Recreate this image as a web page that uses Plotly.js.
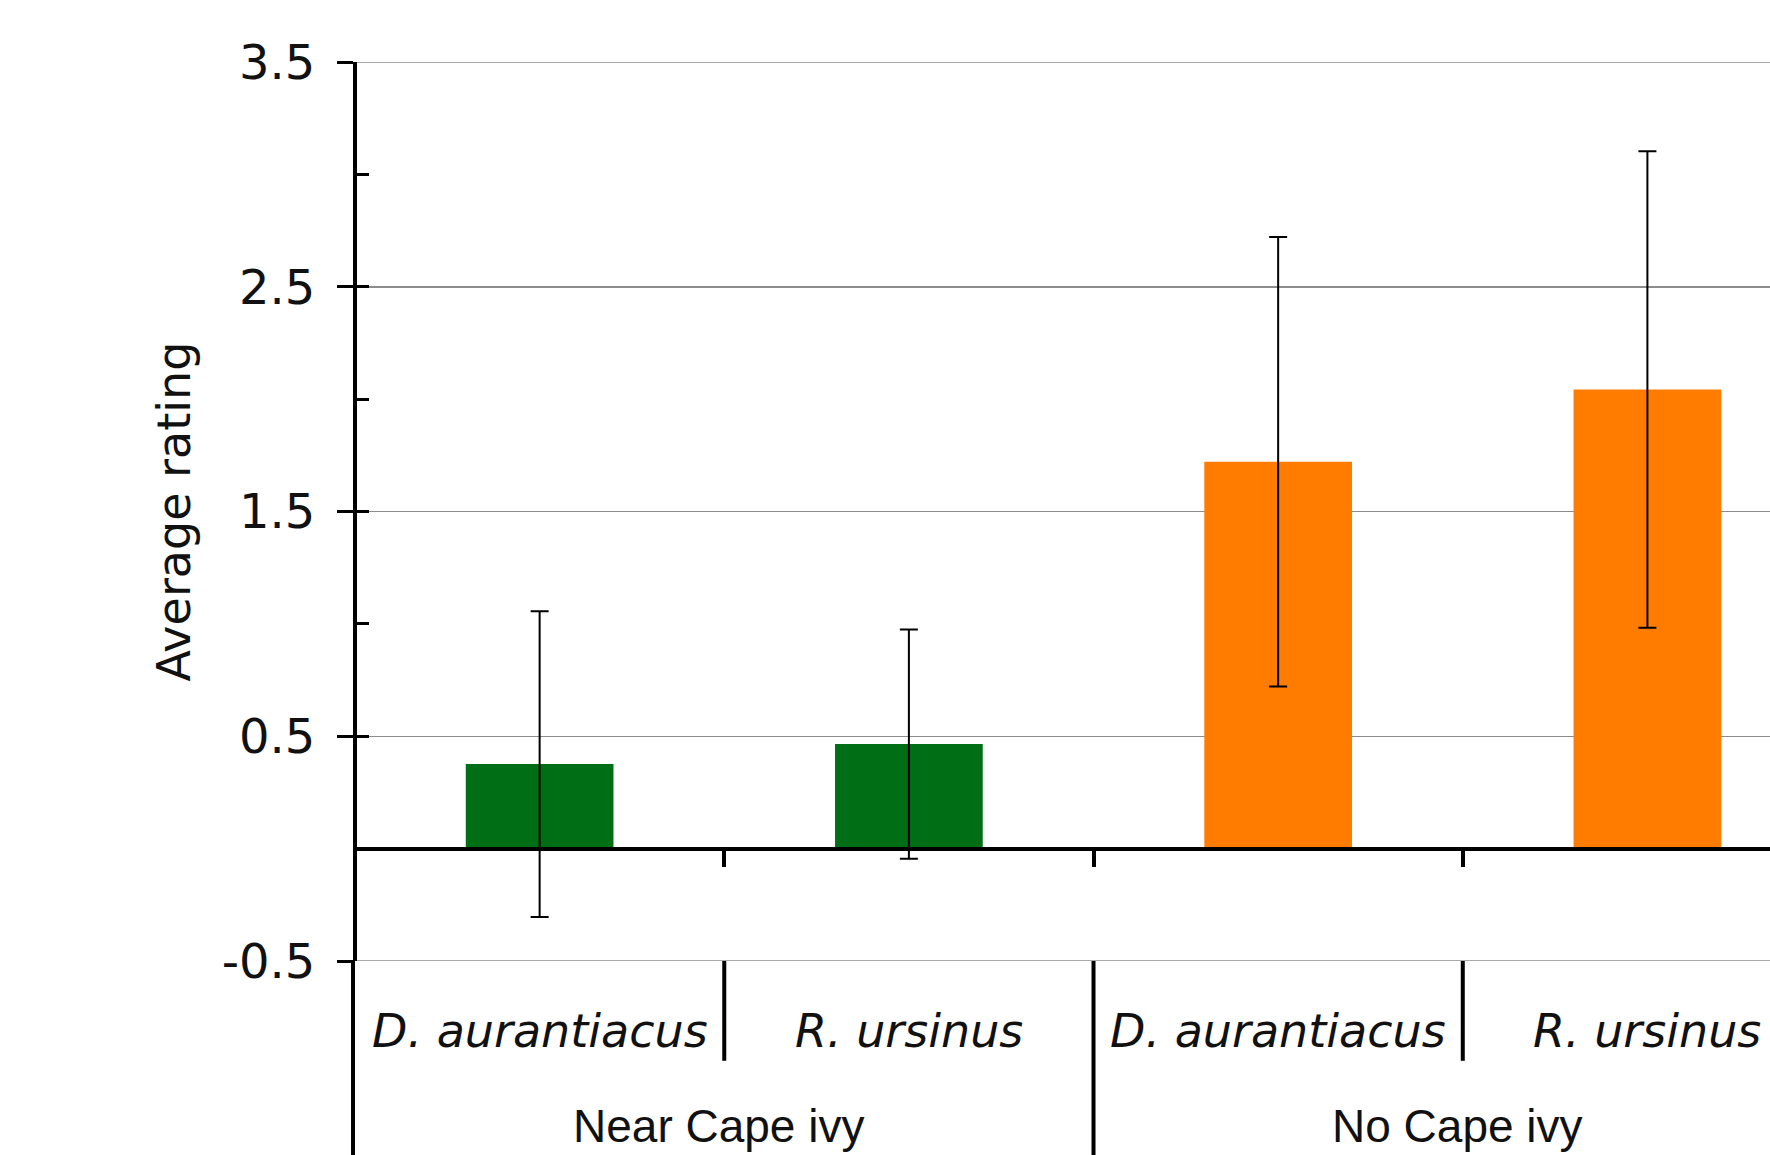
<!DOCTYPE html>
<html><head><meta charset="utf-8">
<script src="https://cdn.plot.ly/plotly-3.0.1.min.js"></script>
<style>html,body{margin:0;padding:0;background:#fff;}</style>
</head><body>
<div id="chart" style="width:1770px;height:1155px;"></div>
<script>
// ---- data ----
const groups = ['Near Cape ivy', 'Near Cape ivy', 'No Cape ivy', 'No Cape ivy'];
const species = ['D. aurantiacus', 'R. ursinus', 'D. aurantiacus', 'R. ursinus'];
const meanRating = [0.376, 0.465, 1.721, 2.043];
const errorRating = [0.68, 0.51, 1.0, 1.06];
const yTickVals = [-0.5, 0.5, 1.5, 2.5, 3.5];
const yTickText = ['-0.5', '0.5', '1.5', '2.5', '3.5'];
const yTitle = 'Average rating';

// ---- styles ----
const groupColors = {'Near Cape ivy': '#006e14', 'No Cape ivy': '#ff7c00'};
const verdanaLike = 'DejaVu Sans, Verdana, sans-serif';
const arialLike = 'Liberation Sans, Arial, sans-serif';
const gridColor = '#8c8c8c';
const yMin = -0.5, yMax = 3.5;
const xRange = [-0.5, 3.332];
const speciesLabelY = -0.078;
const groupLabelY = -0.183;
const shortDivBottom = -0.111;
const longDivBottom = -0.3;

const catKeys = groups.map((g, i) => g + ' | ' + species[i]);
const idx = catKeys.map((_, i) => i);

const barTrace = {
  type: 'bar',
  x: catKeys,
  y: meanRating,
  marker: {color: groups.map(g => groupColors[g]), line: {width: 0}},
  error_y: {type: 'data', array: errorRating, visible: true, color: '#000', thickness: 2, width: 9},
  hoverinfo: 'skip',
  showlegend: false
};
const tickHelper = {
  type: 'scatter', mode: 'markers', x: catKeys, y: meanRating, yaxis: 'y2',
  marker: {opacity: 0}, hoverinfo: 'skip', showlegend: false
};

// annotations: species labels and group labels
const annotations = [];
species.forEach((s, i) => {
  annotations.push({
    x: i, xref: 'x', y: speciesLabelY, yref: 'paper', text: s, showarrow: false,
    xanchor: 'center', yanchor: 'middle',
    font: {family: verdanaLike, size: 46, color: '#111', style: 'italic'}
  });
});
const uniqueGroups = [...new Set(groups)];
uniqueGroups.forEach(g => {
  const ids = idx.filter(i => groups[i] === g);
  const mid = (ids[0] + ids[ids.length - 1]) / 2;
  annotations.push({
    x: mid - 0.015, xref: 'x', y: groupLabelY, yref: 'paper', text: g, showarrow: false,
    xanchor: 'center', yanchor: 'middle',
    font: {family: arialLike, size: 46, color: '#111'}
  });
});

// divider shapes in the category label area
const shapes = [];
for (let i = 1; i < groups.length; i++) {
  const b = i - 0.5;
  const isGroupBoundary = groups[i] !== groups[i - 1];
  shapes.push({
    type: 'line', xref: 'x', yref: 'paper', x0: b, x1: b, y0: 0,
    y1: isGroupBoundary ? longDivBottom : shortDivBottom,
    line: {color: '#000', width: 4}
  });
}
// gridlines at the two range ends (plotly omits them at the plot edges)
[yMin, yMax].forEach(v => {
  shapes.push({type: 'line', xref: 'paper', yref: 'y', x0: 0, x1: 1, y0: v, y1: v, layer: 'below',
    line: {color: gridColor, width: 1.5}});
});
// continuation of the value axis line through the label area
shapes.push({type: 'line', xref: 'paper', yref: 'paper', x0: -0.0014, x1: -0.0014, y0: 0, y1: longDivBottom,
  line: {color: '#000', width: 4}});

const layout = {
  width: 1770, height: 1155,
  margin: {l: 355, r: 0, t: 62, b: 194, pad: 0},
  paper_bgcolor: '#fff', plot_bgcolor: '#fff',
  bargap: 0.6,
  showlegend: false,
  xaxis: {
    type: 'category', range: xRange, anchor: 'free', position: (0 - yMin) / (yMax - yMin),
    showline: true, linecolor: '#000', linewidth: 4,
    ticks: 'outside', tickson: 'boundaries', ticklen: 16, tickwidth: 4, tickcolor: '#000',
    showticklabels: false, showgrid: false, zeroline: false, fixedrange: true
  },
  yaxis: {
    range: [yMin, yMax], anchor: 'free', position: 0,
    tickmode: 'array', tickvals: yTickVals, ticktext: yTickText,
    ticks: 'outside', ticklen: 16, tickwidth: 3, tickcolor: '#000',
    showline: true, linecolor: '#000', linewidth: 4,
    showgrid: true, gridcolor: gridColor, gridwidth: 1.5, zeroline: false,
    ticklabelstandoff: 12,
    tickfont: {family: verdanaLike, size: 48, color: '#111'},
    title: {text: yTitle, font: {family: verdanaLike, size: 46, color: '#111'}, standoff: 16},
    fixedrange: true
  },
  yaxis2: {
    range: [yMin, yMax], overlaying: 'y', anchor: 'free', position: 0, side: 'left',
    tick0: -0.5, dtick: 0.5, ticks: 'inside', ticklen: 13, tickwidth: 3, tickcolor: '#000',
    showticklabels: false, showgrid: false, zeroline: false, showline: false, fixedrange: true
  },
  annotations: annotations,
  shapes: shapes
};

Plotly.newPlot('chart', [barTrace, tickHelper], layout, {staticPlot: true, displayModeBar: false});
</script>
</body></html>
